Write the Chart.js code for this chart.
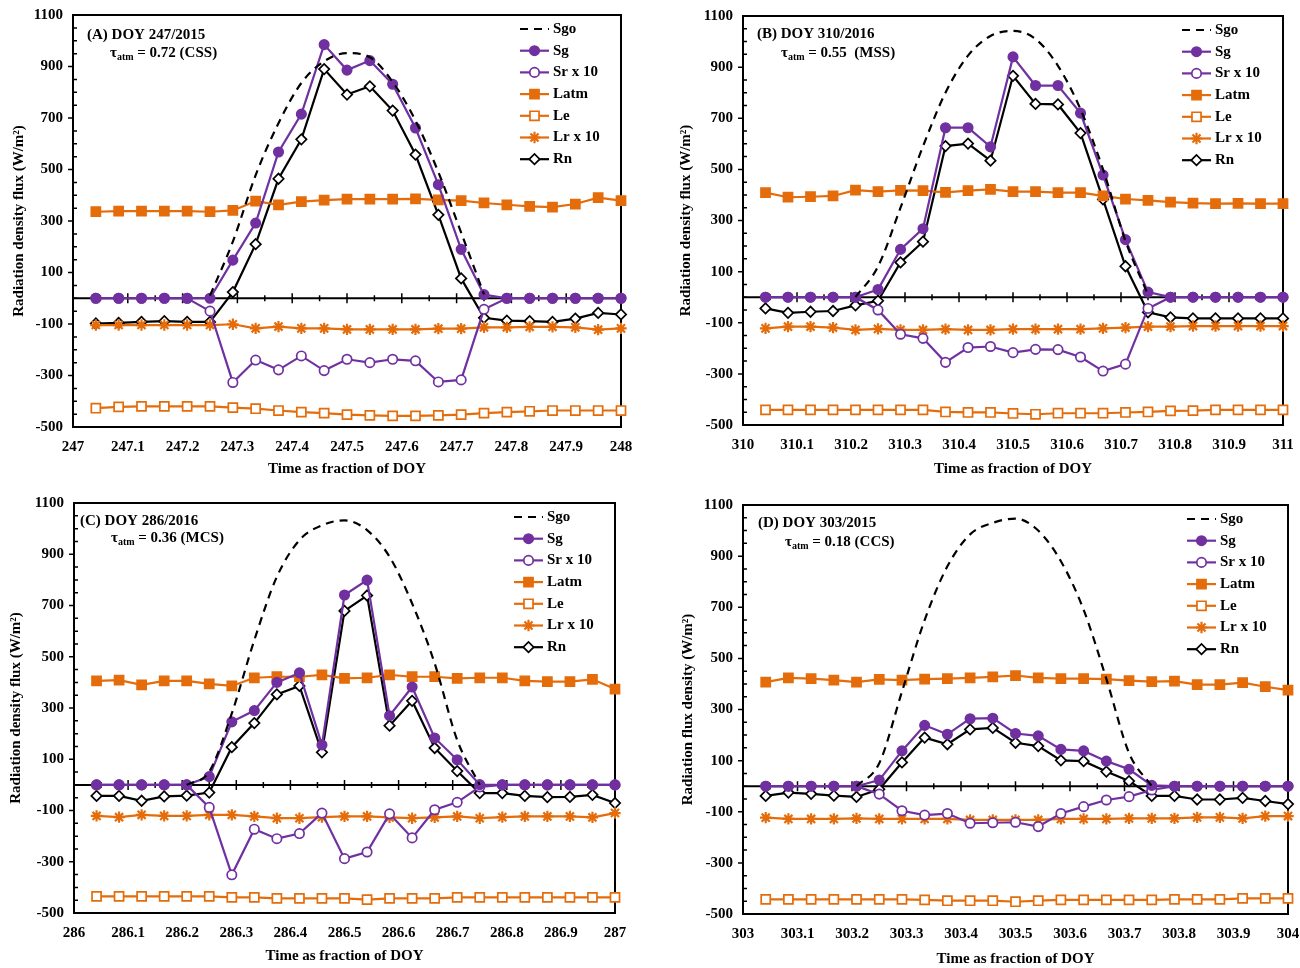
<!DOCTYPE html>
<html>
<head>
<meta charset="utf-8">
<script src="https://cdn.jsdelivr.net/npm/chart.js@4.4.0/dist/chart.umd.min.js"></script>
<style>
  body { margin: 0; background: #fff; }
  #wrap { position: relative; width: 1300px; height: 968px; overflow: hidden; }
  .panel { position: absolute; }
</style>
</head>
<body>
<div id="wrap">
  <div class="panel" style="left:0;top:0"><canvas id="cA" width="650" height="485"></canvas></div>
  <div class="panel" style="left:650px;top:0"><canvas id="cB" width="650" height="485"></canvas></div>
  <div class="panel" style="left:0;top:485px"><canvas id="cC" width="650" height="483"></canvas></div>
  <div class="panel" style="left:650px;top:485px"><canvas id="cD" width="650" height="483"></canvas></div>
</div>
<script>
// hourly time steps as fraction of the day
var frac = [0.0417, 0.0833, 0.125, 0.1667, 0.2083, 0.25, 0.2917, 0.3333, 0.375, 0.4167, 0.4583, 0.5,
            0.5417, 0.5833, 0.625, 0.6667, 0.7083, 0.75, 0.7917, 0.8333, 0.875, 0.9167, 0.9583, 1];
var seriesNames = ['Sgo', 'Sg', 'Sr x 10', 'Latm', 'Le', 'Lr x 10', 'Rn'];
var yTicks = [-500, -300, -100, 100, 300, 500, 700, 900, 1100];

// (A) DOY 247/2015
var sgoA  = [null,null,null,null,null,10,220,478,680,836,920,952,936,840,690,490,255,15,null,null,null,null,null,null];
var sgA   = [0,0,0,0,0,0,148,292,568,715,985,886,923,831,661,441,190,14,0,0,0,0,0,0];
var srA   = [0,0,0,0,0,-50,-327,-240,-278,-224,-281,-237,-250,-237,-243,-325,-317,-43,0,0,0,0,0,0];
var latmA = [336,338,338,338,338,336,341,377,363,375,381,385,385,385,386,382,379,370,363,357,354,366,391,379];
var leA   = [-427,-422,-420,-420,-420,-420,-425,-429,-436,-442,-446,-452,-455,-457,-457,-455,-452,-446,-442,-439,-436,-436,-436,-436];
var lrA   = [-104,-104,-104,-104,-104,-104,-101,-117,-110,-117,-117,-121,-121,-121,-121,-118,-118,-113,-113,-111,-111,-113,-122,-117];
var rnA   = [-98,-96,-92,-89,-92,-92,24,210,464,617,890,791,823,729,558,324,77,-76,-87,-89,-92,-79,-57,-63];

// (B) DOY 310/2016
var sgoB  = [null,null,null,null,0,120,350,590,800,945,1022,1042,1010,905,735,500,220,10,null,null,null,null,null,null];
var sgB   = [0,0,0,0,0,30,187,268,663,663,588,940,828,828,720,478,225,20,0,0,0,0,0,0];
var srB   = [0,0,0,0,0,-50,-145,-161,-255,-197,-193,-217,-204,-205,-234,-289,-262,-44,0,0,0,0,0,0];
var latmB = [409,391,393,396,419,413,418,417,410,417,422,413,413,409,409,396,384,379,372,368,366,367,366,366];
var leB   = [-441,-441,-441,-441,-441,-441,-441,-441,-449,-451,-451,-455,-458,-454,-454,-454,-451,-449,-445,-444,-441,-441,-441,-441];
var lrB   = [-122,-115,-115,-119,-128,-124,-128,-128,-125,-128,-128,-125,-125,-125,-125,-122,-119,-115,-115,-113,-113,-113,-113,-113];
var rnB   = [-44,-61,-57,-54,-32,-14,136,217,591,601,534,866,756,754,642,383,121,-59,-79,-83,-83,-83,-83,-83];

// (C) DOY 286/2016
var sgoC  = [null,null,null,null,0,52,279,565,812,955,1013,1032,994,890,708,474,175,0,null,null,null,null,null,null];
var sgC   = [0,0,0,0,0,32,246,290,400,437,156,741,799,270,382,183,98,1,0,0,0,0,0,0];
var srC   = [0,0,0,0,0,-88,-351,-173,-210,-190,-110,-288,-262,-113,-207,-97,-68,-8,0,0,0,0,0,0];
var latmC = [406,409,390,406,406,394,386,418,422,422,429,416,418,429,422,422,416,418,418,406,403,403,412,374];
var leC   = [-435,-435,-435,-435,-435,-435,-439,-439,-443,-443,-443,-443,-448,-443,-443,-443,-439,-439,-439,-439,-439,-439,-439,-439];
var lrC   = [-121,-126,-117,-121,-121,-117,-117,-123,-130,-130,-126,-123,-123,-127,-130,-127,-123,-130,-126,-123,-123,-123,-127,-110];
var rnC   = [-43,-43,-62,-45,-42,-30,147,241,353,386,127,679,739,231,328,144,54,-32,-32,-43,-48,-47,-39,-71];

// (D) DOY 303/2015
var sgoD  = [null,null,null,null,0,90,370,650,860,985,1030,1047,1000,880,690,420,130,0,null,null,null,null,null,null];
var sgD   = [0,0,0,0,0,24,138,238,203,264,266,206,197,144,138,98,66,3,0,0,0,0,0,0];
var srD   = [0,0,0,0,0,-31,-96,-113,-107,-145,-143,-141,-158,-107,-80,-54,-41,-15,0,0,0,0,0,0];
var latmD = [407,424,421,415,407,418,415,419,421,424,428,433,424,421,421,419,413,409,411,397,397,405,389,376];
var leD   = [-443,-443,-443,-443,-443,-443,-443,-445,-448,-448,-448,-452,-448,-445,-445,-445,-445,-445,-443,-443,-443,-439,-439,-439];
var lrD   = [-123,-128,-128,-128,-126,-128,-128,-128,-128,-132,-132,-132,-132,-128,-128,-128,-126,-126,-126,-122,-122,-126,-117,-117];
var rnD   = [-38,-25,-30,-37,-42,-12,93,190,164,222,228,170,157,101,98,57,20,-38,-38,-52,-52,-46,-58,-70];

var PURPLE = '#7030A0', ORANGE = '#E46C0A', BLACK = '#000000';
var FONT = '"Liberation Serif", "Times New Roman", serif';

function pts(doy, vals) {
  return frac.map(function (f, i) { return { x: doy + f, y: vals[i] }; });
}

function line(label, doy, vals, color, style, radius, fill) {
  return {
    label: label, data: pts(doy, vals),
    borderColor: color, borderWidth: 2.2, tension: 0, clip: false,
    pointStyle: style, pointRadius: radius, pointHoverRadius: radius,
    pointBackgroundColor: fill, pointBorderColor: color, pointBorderWidth: 1.7
  };
}

// frame, zero axis line and tick marks
var decor = {
  id: 'decor',
  beforeDatasetsDraw: function (chart) {
    var ctx = chart.ctx, a = chart.chartArea, xs = chart.scales.x, ys = chart.scales.y;
    var doy = xs.min, y0 = ys.getPixelForValue(0);
    ctx.save();
    ctx.strokeStyle = BLACK;
    ctx.lineWidth = 2;
    ctx.strokeRect(a.left, a.top, a.right - a.left, a.bottom - a.top);
    ctx.beginPath(); ctx.moveTo(a.left, y0); ctx.lineTo(a.right, y0); ctx.stroke();
    ctx.lineWidth = 1.5;
    ctx.beginPath();
    for (var k = 1; k < 20; k++) {
      var px = xs.getPixelForValue(doy + k * 0.05);
      var len = k % 2 === 0 ? 5 : 3;
      ctx.moveTo(px, y0 - len); ctx.lineTo(px, y0 + len);
    }
    for (var v = -450; v < 1100; v += 50) {
      var py = ys.getPixelForValue(v);
      if ((v + 500) % 200 === 0) { ctx.moveTo(a.left - 5, py); ctx.lineTo(a.left, py); }
      else { ctx.moveTo(a.left, py); ctx.lineTo(a.left + 4, py); }
    }
    ctx.stroke();
    ctx.restore();
  },
  afterDraw: function (chart) {
    var ctx = chart.ctx, a = chart.chartArea, o = chart.options.plugins.decor;
    ctx.save();
    ctx.fillStyle = BLACK;
    ctx.textAlign = 'left';
    ctx.textBaseline = 'middle';
    ctx.font = 'bold 15px ' + FONT;
    ctx.fillText(o.tag, a.left + o.tagX, a.top + o.tagY);
    var x = a.left + o.tauX, y = a.top + o.tauY;
    ctx.fillText('\u03C4', x, y);
    x += ctx.measureText('\u03C4').width;
    ctx.font = 'bold 10px ' + FONT;
    ctx.fillText('atm', x, y + 4);
    x += ctx.measureText('atm').width;
    ctx.font = 'bold 15px ' + FONT;
    ctx.fillText(o.tau, x, y);

    // legend inside the plot
    chart.data.datasets.forEach(function (ds, i) {
      var ly = a.top + 14 + i * 21.7;
      var x0 = a.right - 101, x1 = a.right - 72;
      ctx.strokeStyle = ds.borderColor;
      ctx.lineWidth = ds.borderWidth;
      ctx.setLineDash(ds.borderDash || []);
      ctx.beginPath(); ctx.moveTo(x0, ly); ctx.lineTo(x1, ly); ctx.stroke();
      ctx.setLineDash([]);
      if (ds.pointRadius > 0) {
        ctx.fillStyle = ds.pointBackgroundColor;
        ctx.strokeStyle = ds.pointBorderColor;
        ctx.lineWidth = ds.pointBorderWidth;
        Chart.helpers.drawPoint(ctx, { pointStyle: ds.pointStyle, radius: ds.pointRadius, rotation: 0, borderWidth: ds.pointBorderWidth }, (x0 + x1) / 2, ly);
      }
      ctx.fillStyle = BLACK;
      ctx.font = 'bold 15px ' + FONT;
      ctx.fillText(ds.label, a.right - 68, ly);
    });
    ctx.restore();
  }
};

function makePanel(id, doy, s, txt, g) {
  var sgo = line(seriesNames[0], doy, s.sgo, BLACK, 'circle', 0, BLACK);
  sgo.borderDash = [8, 6];
  sgo.borderWidth = 2.2;
  sgo.cubicInterpolationMode = 'monotone';
  var datasets = [
    sgo,
    line(seriesNames[1], doy, s.sg, PURPLE, 'circle', 4.7, PURPLE),
    line(seriesNames[2], doy, s.sr, PURPLE, 'circle', 4.7, '#fff'),
    line(seriesNames[3], doy, s.latm, ORANGE, 'rect', 6.4, ORANGE),
    line(seriesNames[4], doy, s.le, ORANGE, 'rect', 6.4, '#fff'),
    line(seriesNames[5], doy, s.lr, ORANGE, 'star', 5.7, ORANGE),
    line(seriesNames[6], doy, s.rn, BLACK, 'rectRot', 5.2, '#fff')
  ];
  datasets[5].pointBorderWidth = 2.2;

  new Chart(document.getElementById(id), {
    type: 'line',
    data: { datasets: datasets },
    plugins: [decor],
    options: {
      responsive: false,
      animation: false,
      devicePixelRatio: 1,
      layout: { padding: { left: 0, top: g.top, right: g.right, bottom: 0 } },
      plugins: {
        legend: { display: false },
        tooltip: { enabled: false },
        decor: txt
      },
      scales: {
        x: {
          type: 'linear', min: doy, max: doy + 1,
          border: { display: false },
          grid: { display: false, drawTicks: false },
          ticks: {
            stepSize: 0.1, autoSkip: false, maxRotation: 0, padding: 11, color: BLACK,
            font: { family: FONT, size: 15, weight: 'bold' },
            callback: function (v) { return String(Math.round(v * 10) / 10); }
          },
          title: {
            display: true, text: 'Time as fraction of DOY', color: BLACK,
            font: { family: FONT, size: 15, weight: 'bold' },
            padding: { top: 0, bottom: g.xTitlePad }
          },
          afterFit: function (sc) { sc.height = g.xHeight; sc.paddingLeft = 0; sc.paddingRight = 0; }
        },
        y: {
          min: -500, max: 1100,
          border: { display: false },
          grid: { display: false, drawTicks: false },
          afterBuildTicks: function (sc) { sc.ticks = yTicks.map(function (v) { return { value: v }; }); },
          ticks: {
            padding: 10, color: BLACK,
            font: { family: FONT, size: 15, weight: 'bold' },
            callback: function (v) { return String(v); }
          },
          title: {
            display: true, text: txt.yTitle, color: BLACK,
            font: { family: FONT, size: 15, weight: 'bold' },
            padding: { top: g.yTitlePad, bottom: 0 }
          },
          afterFit: function (sc) { sc.width = g.yWidth; sc.paddingTop = 0; sc.paddingBottom = 0; }
        }
      }
    }
  });
}

makePanel('cA', 247, { sgo: sgoA, sg: sgA, sr: srA, latm: latmA, le: leA, lr: lrA, rn: rnA },
  { tag: '(A) DOY 247/2015', tau: ' = 0.72 (CSS)', tagX: 14, tagY: 20, tauX: 37, tauY: 38,
    yTitle: 'Radiation density flux (W/m\u00B2)' },
  { top: 15, right: 29, yWidth: 73, xHeight: 58, xTitlePad: 7, yTitlePad: 10 });

makePanel('cB', 310, { sgo: sgoB, sg: sgB, sr: srB, latm: latmB, le: leB, lr: lrB, rn: rnB },
  { tag: '(B) DOY 310/2016', tau: ' = 0.55  (MSS)', tagX: 14, tagY: 18, tauX: 38, tauY: 37,
    yTitle: 'Radiation density flux (W/m\u00B2)' },
  { top: 16, right: 17, yWidth: 93, xHeight: 60, xTitlePad: 7, yTitlePad: 27 });

makePanel('cC', 286, { sgo: sgoC, sg: sgC, sr: srC, latm: latmC, le: leC, lr: lrC, rn: rnC },
  { tag: '(C) DOY 286/2016', tau: ' = 0.36 (MCS)', tagX: 6, tagY: 18, tauX: 37, tauY: 35,
    yTitle: 'Radiation density flux (W/m\u00B2)' },
  { top: 18, right: 35, yWidth: 74, xHeight: 55, xTitlePad: 3, yTitlePad: 7 });

makePanel('cD', 303, { sgo: sgoD, sg: sgD, sr: srD, latm: latmD, le: leD, lr: lrD, rn: rnD },
  { tag: '(D) DOY 303/2015', tau: ' = 0.18 (CCS)', tagX: 15, tagY: 18, tauX: 42, tauY: 37,
    yTitle: 'Radiation flux density (W/m\u00B2)' },
  { top: 20, right: 12, yWidth: 93, xHeight: 54, xTitlePad: 0, yTitlePad: 29 });
</script>
</body>
</html>
